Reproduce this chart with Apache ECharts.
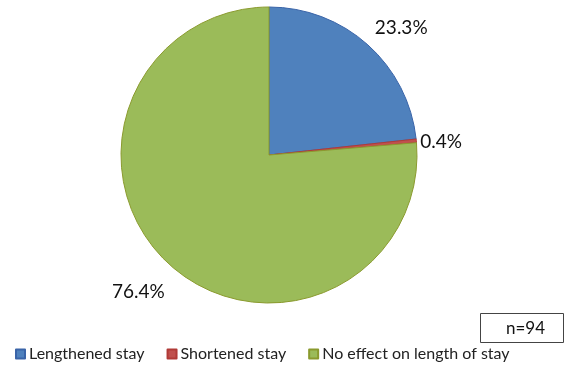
<!DOCTYPE html>
<html>
<head>
<meta charset="utf-8">
<script src="https://cdn.jsdelivr.net/npm/echarts@6/dist/echarts.min.js"></script>
<style>
  html, body { margin: 0; padding: 0; background: #fff; }
  #chart { width: 564px; height: 369px; }
</style>
</head>
<body>
<div id="chart"></div>
<script>
// Effect of the condition on length of hospital stay (percent of respondents)
const categories = ['Lengthened stay', 'Shortened stay', 'No effect on length of stay'];
const shares = [23.3, 0.4, 76.4];
const fills = ['#4F81BD', '#C0504D', '#9BBB59'];
const edges = ['#3A64A8', '#B03A37', '#8A9A2E'];
const sampleNote = 'n=94';

// Label offsets relative to the library's default outside placement
const labelNudges = [[3, -12], [-2, 2], [0, 24]];

const chart = echarts.init(document.getElementById('chart'));
chart.setOption({
  animation: false,
  legend: {
    bottom: 2,
    left: 10,
    itemWidth: 9,
    itemHeight: 9,
    itemGap: 22,
    icon: 'rect',
    textStyle: { fontFamily: 'Lato', fontSize: 16, color: '#222', padding: [0, 0, 0, -1] },
    data: categories
  },
  graphic: [{
    type: 'group',
    right: 0,
    top: 313,
    children: [
      { type: 'rect', shape: { x: 0, y: 0, width: 83, height: 29 },
        style: { fill: '#fff', stroke: '#444', lineWidth: 1 } },
      { type: 'text', x: 45, y: 15,
        style: { text: sampleNote, font: '17px Lato', fill: '#111', textAlign: 'center', textVerticalAlign: 'middle' } }
    ]
  }],
  series: [{
    type: 'pie',
    center: [269, 155],
    radius: 148,
    startAngle: 90,
    clockwise: true,
    avoidLabelOverlap: false,
    label: {
      show: true,
      position: 'outside',
      formatter: p => p.value.toFixed(1) + '%',
      fontFamily: 'Lato',
      fontSize: 19,
      color: '#111',
      distanceToLabelLine: 0
    },
    labelLine: { show: false, length: 6, length2: 0 },
    labelLayout: p => ({ dx: labelNudges[p.dataIndex][0], dy: labelNudges[p.dataIndex][1] }),
    data: categories.map((name, i) => ({
      name,
      value: shares[i],
      itemStyle: { color: fills[i], borderColor: edges[i], borderWidth: 1 }
    }))
  }]
});
</script>
</body>
</html>
